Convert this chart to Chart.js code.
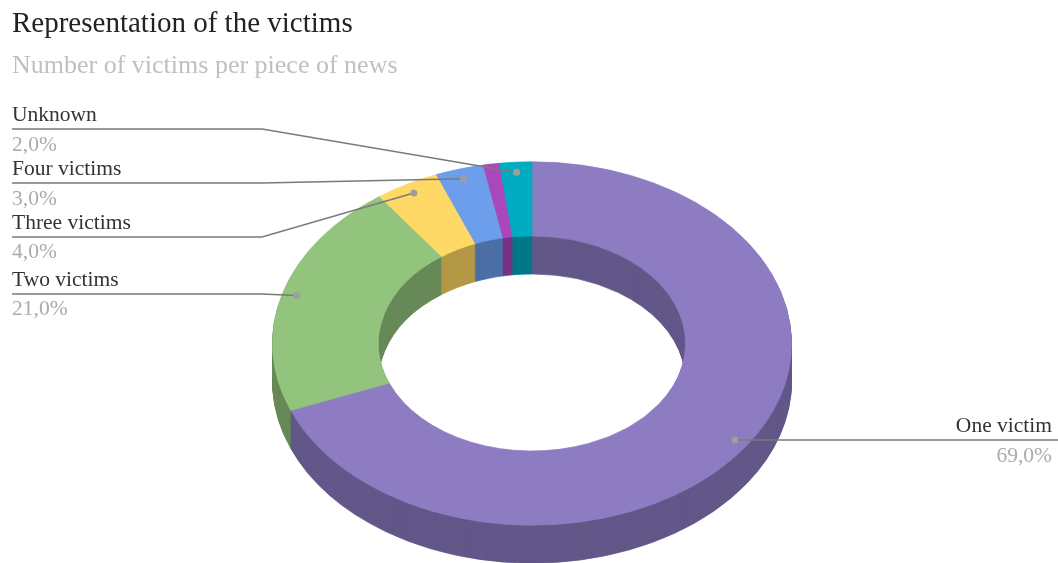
<!DOCTYPE html>
<html>
<head>
<meta charset="utf-8">
<script src="https://cdn.jsdelivr.net/npm/chart.js@4"></script>
<style>
  html, body { margin: 0; padding: 0; background: #fff; }
  #wrap { width: 1058px; height: 563px; }
</style>
</head>
<body>
<div id="wrap"><canvas id="chart" width="1058" height="563"></canvas></div>
<script>
const categories = ['One victim', 'Two victims', 'Three victims', 'Four victims', 'Five or more victims', 'Unknown'];
const shares = [69, 21, 4, 3, 1, 2];
const pieColors = ['#8e7cc3', '#93c47d', '#ffd966', '#6d9eeb', '#ab47bc', '#00acc1'];
const wallColors = ['#635789', '#678957', '#b39847', '#4c6fa5', '#783284', '#007887'];
const pctLabels = shares.map(v => v.toFixed(1).replace('.', ',') + '%');

const titleText = 'Representation of the victims';
const subtitleText = 'Number of victims per piece of news';

// where the tilted ring sits on the page
const CX = 532, CY = 343.5, OUTER = 259.5, SQUASH = 0.7, DEPTH = 38;

// callouts (index into categories + text rows)
const callouts = [
  { i: 5, side: 'left', nameY: 115, lineY: 129, pctY: 145 },
  { i: 3, side: 'left', nameY: 169, lineY: 183, pctY: 199 },
  { i: 2, side: 'left', nameY: 223, lineY: 237, pctY: 252 },
  { i: 1, side: 'left', nameY: 280, lineY: 294, pctY: 309 },
  { i: 0, side: 'right', nameY: 426, lineY: 440, pctY: 456 }
];

const tilted = {
  id: 'tilted',
  beforeDatasetDraw() { return false; },
  afterDatasetsDraw(chart) {
    const ctx = chart.ctx;
    const arcs = chart.getDatasetMeta(0).data;
    const x0 = arcs[0].x, y0 = arcs[0].y;
    const k = OUTER / arcs[0].outerRadius;
    const place = (dy) => {
      ctx.translate(CX, CY + dy);
      ctx.scale(k, k * SQUASH);
      ctx.translate(-x0, -y0);
    };
    // side walls: stacked darker copies
    for (let d = DEPTH; d >= 1; d--) {
      arcs.forEach((a, i) => {
        const w = Object.create(a);
        w.options = Object.assign({}, a.options, { backgroundColor: wallColors[i], borderColor: wallColors[i] });
        ctx.save(); place(d); w.draw(ctx); ctx.restore();
      });
    }
    // top face
    arcs.forEach(a => { ctx.save(); place(0); a.draw(ctx); ctx.restore(); });
  },
  afterDraw(chart) {
    const ctx = chart.ctx;
    const arcs = chart.getDatasetMeta(0).data;
    const k = OUTER / arcs[0].outerRadius;

    ctx.save();
    ctx.textBaseline = 'alphabetic';
    ctx.textAlign = 'left';
    ctx.fillStyle = '#222';
    ctx.font = '29px "Liberation Serif", "Times New Roman", serif';
    ctx.fillText(titleText, 12, 32);
    ctx.fillStyle = '#c0c0c0';
    ctx.font = '26px "Liberation Serif", "Times New Roman", serif';
    ctx.fillText(subtitleText, 12, 73);

    callouts.forEach(c => {
      const a = arcs[c.i];
      const mid = (a.startAngle + a.endAngle) / 2;
      const r = a.outerRadius * 0.945;
      const dx = CX + k * r * Math.cos(mid);
      const dy = CY + k * SQUASH * r * Math.sin(mid);

      ctx.strokeStyle = '#7a7a7a';
      ctx.lineWidth = 1.5;
      ctx.beginPath();
      if (c.side === 'left') {
        ctx.moveTo(12, c.lineY);
        ctx.lineTo(262, c.lineY);
        ctx.lineTo(dx, dy);
      } else {
        ctx.moveTo(dx, dy);
        ctx.lineTo(1058, c.lineY);
      }
      ctx.stroke();

      ctx.fillStyle = '#9e9e9e';
      ctx.beginPath();
      ctx.arc(dx, dy, 3.5, 0, Math.PI * 2);
      ctx.fill();

      ctx.textBaseline = 'middle';
      ctx.textAlign = c.side === 'left' ? 'left' : 'right';
      const tx = c.side === 'left' ? 12 : 1052;
      ctx.font = '21.5px "Liberation Serif", "Times New Roman", serif';
      ctx.fillStyle = '#333';
      ctx.fillText(categories[c.i], tx, c.nameY);
      ctx.fillStyle = '#ababab';
      ctx.fillText(pctLabels[c.i], tx, c.pctY);
    });
    ctx.restore();
  }
};

new Chart(document.getElementById('chart'), {
  type: 'doughnut',
  data: {
    labels: categories,
    datasets: [{
      data: shares,
      backgroundColor: pieColors,
      borderColor: pieColors,
      borderWidth: 1,
      hoverOffset: 0
    }]
  },
  options: {
    responsive: false,
    devicePixelRatio: 1,
    animation: false,
    events: [],
    cutout: '59.2%',
    plugins: {
      legend: { display: false },
      tooltip: { enabled: false }
    }
  },
  plugins: [tilted]
});
</script>
</body>
</html>
